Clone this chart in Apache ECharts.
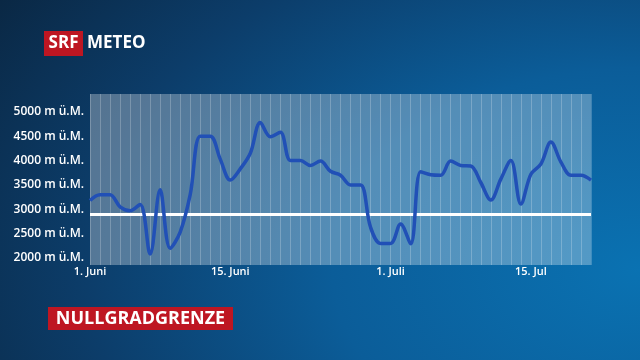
<!DOCTYPE html>
<html>
<head>
<meta charset="utf-8">
<script src="https://cdn.jsdelivr.net/npm/echarts@6/dist/echarts.min.js"></script>
<style>
  html, body { margin: 0; padding: 0; }
  #chart {
    width: 640px;
    height: 360px;
    background: radial-gradient(ellipse 120% 140% at 100% 75%, #0a72b2 0%, #0b5d99 40%, #0c3d6a 72%, #0a2743 100%);
  }
</style>
</head>
<body>
<div id="chart"></div>
<script>
// Nullgradgrenze, 1. Juni bis 20. Juli (m ü.M.)
const freezingLevel = [
  3180, 3300, 3300, 3050, 2970, 3100, 2080, 3400, 2200, 2530,
  3300, 4500, 4500, 4030, 3600, 3830, 4150, 4780, 4490, 4580,
  4000, 4000, 3900, 3990, 3780, 3700, 3500, 3500, 2630, 2300,
  2300, 2700, 2290, 3770, 3710, 3700, 3990, 3900, 3890, 3550,
  3190, 3620, 4000, 3110, 3720, 3930, 4380, 3970, 3700, 3700,
  3600
];
const referenceLevel = 2890;
const yTicks = [2000, 2500, 3000, 3500, 4000, 4500, 5000];
const tickIndex = [0, 14, 30, 44];
const tickLabels = ["1. Juni", "15. Juni", "1. Juli", "15. Jul"];

// one category per day
const days = [];
for (let i = 0; i < freezingLevel.length; i++) {
  const d = new Date(2000, 5, 1 + i);
  days.push(d.getDate() + "." + (d.getMonth() + 1) + ".");
}

const chart = echarts.init(document.getElementById("chart"), null, { renderer: "canvas" });

const option = {
  backgroundColor: "transparent",
  animation: false,
  grid: {
    left: 90,
    right: 49,
    top: 94,
    bottom: 95,
    show: true,
    backgroundColor: "rgba(255,255,255,0.3)",
    borderWidth: 0,
  },
  xAxis: {
    type: "category",
    boundaryGap: false,
    data: days,
    axisLine: { show: false },
    axisTick: { show: false },
    splitLine: {
      show: true,
      interval: 0,
      lineStyle: { color: "rgba(255,255,255,0.22)", width: 1 },
    },
    axisLabel: {
      interval: 0,
      margin: 1,
      color: "#fff",
      fontFamily: "Open Sans",
      fontWeight: 600,
      fontSize: 11,
      formatter: function (value, index) {
        const k = tickIndex.indexOf(index);
        return k >= 0 ? tickLabels[k] : "";
      },
    },
  },
  yAxis: {
    type: "value",
    min: 1856,
    max: 5367,
    axisLine: { show: false },
    axisTick: { show: false },
    splitLine: { show: false },
    axisLabel: {
      customValues: yTicks,
      margin: 6,
      padding: [3, 0, 0, 0],
      color: "#fff",
      fontFamily: "Open Sans",
      fontWeight: 600,
      fontSize: 12,
      formatter: function (v) {
        return v + " m ü.M.";
      },
    },
  },
  series: [
    {
      name: "Nullgradgrenze",
      type: "line",
      data: freezingLevel,
      smooth: 0.35,
      symbol: "none",
      z: 3,
      lineStyle: { color: "#2150b6", width: 3.5 },
      markLine: {
        silent: true,
        symbol: "none",
        label: { show: false },
        lineStyle: { color: "#fff", width: 3, type: "solid" },
        data: [{ yAxis: referenceLevel }],
        z: 2,
      },
    },
  ],
  graphic: [
    {
      type: "group",
      left: 44,
      top: 31,
      children: [
        { type: "rect", shape: { x: 0, y: 0, width: 39, height: 25 }, style: { fill: "#be1622" } },
        {
          type: "text",
          x: 19.5,
          y: 12.5,
          style: {
            text: "SRF",
            fill: "#fff",
            font: "bold 17px 'Open Sans'",
            align: "center",
            verticalAlign: "middle",
          },
        },
        {
          type: "text",
          x: 43,
          y: 12.5,
          style: {
            text: "METEO",
            fill: "#fff",
            font: "bold 17px 'Open Sans'",
            verticalAlign: "middle",
          },
        },
      ],
    },
    {
      type: "group",
      left: 48,
      top: 307,
      children: [
        { type: "rect", shape: { x: 0, y: 0, width: 185, height: 23 }, style: { fill: "#be1622" } },
        {
          type: "text",
          x: 92.5,
          y: 12,
          style: {
            text: "NULLGRADGRENZE",
            fill: "#fff",
            font: "bold 18px 'Open Sans'",
            align: "center",
            verticalAlign: "middle",
          },
        },
      ],
    },
  ],
};

chart.setOption(option);
</script>
</body>
</html>
